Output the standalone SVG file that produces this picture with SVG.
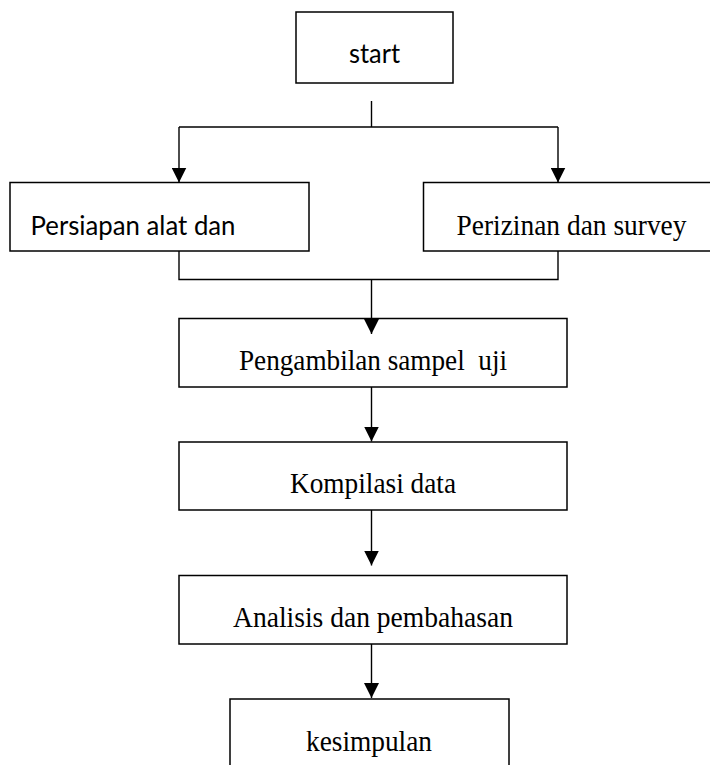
<svg xmlns="http://www.w3.org/2000/svg" width="710" height="765" viewBox="0 0 710 765">
  <style>
    .box { fill: #ffffff; stroke: #000000; stroke-width: 1.5; }
    .sans { font-family: Lato, "Liberation Sans", sans-serif; font-size: 27.5px; fill: #000000; }
    .serif { font-family: "Liberation Serif", "Times New Roman", serif; font-size: 28.5px; fill: #000000; white-space: pre; }
    .conn { fill: none; stroke: #000000; stroke-width: 1.4; }
    .arrow { marker-end: url(#ah); }
  </style>
  <defs>
    <marker id="ah" markerUnits="userSpaceOnUse" markerWidth="15" markerHeight="15" viewBox="0 0 15 15" refX="15" refY="7.5" orient="auto">
      <path d="M0,0 L15,7.5 L0,15 Z" fill="#000000"/>
    </marker>
  </defs>
  <rect width="710" height="765" fill="#ffffff"/>

  <g id="node-start">
    <rect class="box" x="296" y="12" width="157" height="71"/>
    <text class="sans" x="349" y="63" textLength="51" lengthAdjust="spacingAndGlyphs">start</text>
  </g>

  <g id="node-persiapan">
    <rect class="box" x="10" y="182.5" width="299" height="68.5"/>
    <text class="sans" x="30.5" y="235" textLength="205" lengthAdjust="spacingAndGlyphs">Persiapan alat dan</text>
  </g>

  <g id="node-perizinan">
    <rect class="box" x="423.5" y="182.5" width="300" height="68.5"/>
    <text class="serif" x="456.5" y="235" textLength="230" lengthAdjust="spacingAndGlyphs">Perizinan dan survey</text>
  </g>

  <g id="node-pengambilan">
    <rect class="box" x="179" y="318.5" width="388" height="68.5"/>
    <text class="serif" x="239" y="370" textLength="268" lengthAdjust="spacingAndGlyphs" xml:space="preserve">Pengambilan sampel  uji</text>
  </g>

  <g id="node-kompilasi">
    <rect class="box" x="179" y="442" width="388" height="68"/>
    <text class="serif" x="290" y="493" textLength="166" lengthAdjust="spacingAndGlyphs">Kompilasi data</text>
  </g>

  <g id="node-analisis">
    <rect class="box" x="179" y="575.5" width="388" height="68.5"/>
    <text class="serif" x="233" y="627" textLength="280" lengthAdjust="spacingAndGlyphs">Analisis dan pembahasan</text>
  </g>

  <g id="node-kesimpulan">
    <rect class="box" x="230" y="699" width="279" height="100"/>
    <text class="serif" x="306" y="751" textLength="126" lengthAdjust="spacingAndGlyphs">kesimpulan</text>
  </g>

  <g id="connectors">
    <path class="conn" d="M371.5,101 V127"/>
    <path class="conn" d="M179,127 H558"/>
    <path class="conn arrow" d="M179,127 V182.5"/>
    <path class="conn arrow" d="M558,127 V182.5"/>
    <path class="conn" d="M179,251 V279.5 H558 V251"/>
    <path class="conn arrow" d="M371.5,279.5 V334"/>
    <path class="conn arrow" d="M371.5,387 V441.5"/>
    <path class="conn arrow" d="M371.5,510 V565.5"/>
    <path class="conn arrow" d="M371.5,644 V698"/>
  </g>
</svg>
